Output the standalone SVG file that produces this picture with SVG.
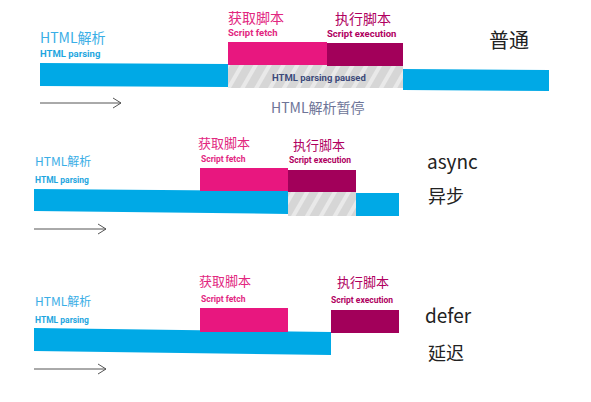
<svg xmlns="http://www.w3.org/2000/svg" width="591" height="402" viewBox="0 0 591 402">
<style>
.cn{font-family:"Noto Sans CJK SC","Noto Sans",sans-serif}
.lt{font-family:Roboto,"Liberation Sans",sans-serif;font-weight:bold}
.blueT{fill:#3aaee6}
.blueS{fill:#1ea6e0}
.pinkT{fill:#e2277f}
.magT{fill:#b0005f}
.dark{fill:#222}
.parse{fill:#00a9e6}
.fetch{fill:#e8177f}
.exec{fill:#a2005a}
.arrow{stroke:#555;stroke-width:1;fill:none}
</style>
<defs>
<pattern id="hatch" width="12" height="12" patternUnits="userSpaceOnUse" patternTransform="rotate(30)">
<rect width="12" height="12" fill="#d6d6d6"/>
<rect width="4" height="12" fill="#e9e9e9"/>
</pattern>
<marker id="arr" markerWidth="10" markerHeight="12" refX="9" refY="6" orient="auto" markerUnits="userSpaceOnUse">
<path d="M1,1 L9,6 L1,11" fill="none" stroke="#555" stroke-width="1"/>
</marker>
</defs>
<rect width="591" height="402" fill="#ffffff"/>

<g id="row1">
<g id="r1-parse">
<polygon class="parse" points="40,63 228,64 228,87 40,86"/>
<polygon class="parse" points="403,69 549,70 549,91 403,90"/>
<text class="cn blueT" x="40" y="43" font-size="14">HTML解析</text>
<text class="lt blueS" x="40" y="57" font-size="9.5">HTML parsing</text>
</g>
<g id="r1-paused">
<rect x="228" y="65" width="175" height="23" fill="url(#hatch)"/>
<text class="lt" x="272" y="81" font-size="9.5" fill="#3c4a7a">HTML parsing paused</text>
<text class="cn" x="271" y="113" font-size="14" fill="#6e7598">HTML解析暂停</text>
</g>
<g id="r1-fetch">
<rect class="fetch" x="228" y="42" width="99" height="23"/>
<text class="cn pinkT" x="228" y="23" font-size="14">获取脚本</text>
<text class="lt pinkT" x="228" y="36" font-size="9.5">Script fetch</text>
</g>
<g id="r1-exec">
<rect class="exec" x="327" y="43" width="76" height="23"/>
<text class="cn magT" x="335" y="24" font-size="14">执行脚本</text>
<text class="lt magT" x="327" y="37" font-size="9.5">Script execution</text>
</g>
<g id="r1-label">
<text class="cn dark" x="489" y="48" font-size="20">普通</text>
</g>
</g>

<g id="row2">
<g id="r2-parse">
<polygon class="parse" points="34,189 288,191 288,214 34,211"/>
<polygon class="parse" points="356,193 399,193 399,216 356,216"/>
<text class="cn blueT" x="35" y="166" font-size="12">HTML解析</text>
<text class="lt blueS" x="35" y="183" font-size="8.5">HTML parsing</text>
</g>
<g id="r2-paused">
<rect x="288" y="192" width="68" height="24" fill="url(#hatch)"/>
</g>
<g id="r2-fetch">
<rect class="fetch" x="200" y="168" width="88" height="23"/>
<text class="cn pinkT" x="198" y="148" font-size="13">获取脚本</text>
<text class="lt pinkT" x="201" y="162" font-size="8.5">Script fetch</text>
</g>
<g id="r2-exec">
<rect class="exec" x="288" y="170" width="68" height="22"/>
<text class="cn magT" x="293" y="150" font-size="13">执行脚本</text>
<text class="lt magT" x="289" y="163" font-size="8.5">Script execution</text>
</g>
<g id="r2-label">
<text class="cn dark" x="427" y="169" font-size="19">async</text>
<text class="cn dark" x="428" y="203" font-size="18">异步</text>
</g>
</g>

<g id="row3">
<g id="r3-parse">
<polygon class="parse" points="34,328 331,332 331,355 34,351"/>
<text class="cn blueT" x="35" y="306" font-size="12">HTML解析</text>
<text class="lt blueS" x="35" y="323" font-size="8.5">HTML parsing</text>
</g>
<g id="r3-fetch">
<rect class="fetch" x="200" y="308" width="88" height="24"/>
<text class="cn pinkT" x="199" y="286" font-size="13">获取脚本</text>
<text class="lt pinkT" x="201" y="302" font-size="8.5">Script fetch</text>
</g>
<g id="r3-exec">
<rect class="exec" x="331" y="310" width="68" height="23"/>
<text class="cn magT" x="337" y="287" font-size="13">执行脚本</text>
<text class="lt magT" x="331" y="303" font-size="8.5">Script execution</text>
</g>
<g id="r3-label">
<text class="cn dark" x="425" y="323" font-size="19">defer</text>
<text class="cn dark" x="428" y="360" font-size="18">延迟</text>
</g>
</g>

<g id="connectors">
<line class="arrow" x1="40" y1="103" x2="121" y2="103" marker-end="url(#arr)"/>
<line class="arrow" x1="34" y1="229" x2="106" y2="229" marker-end="url(#arr)"/>
<line class="arrow" x1="34" y1="369" x2="106" y2="369" marker-end="url(#arr)"/>
</g>
</svg>
